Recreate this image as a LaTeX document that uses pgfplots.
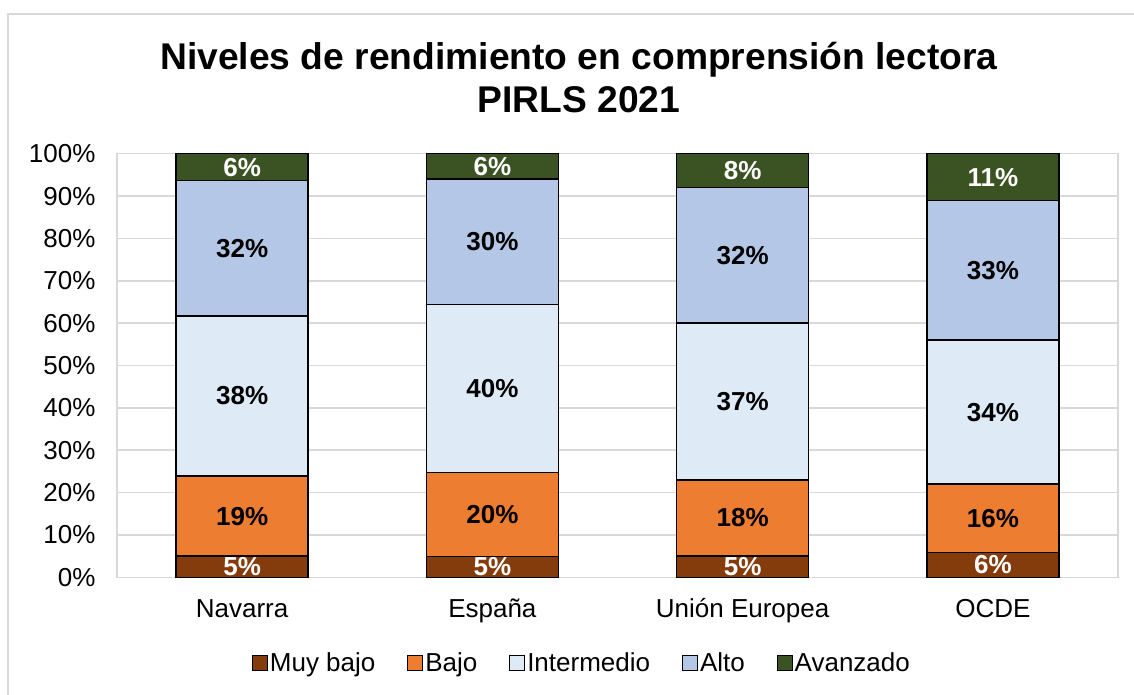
\documentclass[border=0pt]{standalone}
\usepackage{pgfplots}
\pgfplotsset{compat=1.18}
\usepackage{pgfplotstable}
\usepackage{fontspec}
\setmainfont{Liberation Sans}
\definecolor{cMuy}{HTML}{843C0C}
\definecolor{cBajo}{HTML}{ED7D31}
\definecolor{cInt}{HTML}{DEEBF7}
\definecolor{cAlto}{HTML}{B4C7E7}
\definecolor{cAva}{HTML}{3B5323}
\definecolor{cGrid}{HTML}{D9D9D9}
\pgfplotstableread{
x muybajo bajo inter alto avanz
0 5.0 18.9 37.8 31.9 6.4
1 4.9 19.8 39.7 29.6 6.0
2 5.0 18.0 37.0 32.0 8.0
3 5.8 16.2 34.0 32.9 11.1
}\datatable
\begin{document}
\begin{tikzpicture}[x=1pt,y=1pt]
\useasboundingbox (0,0) rectangle (1134,695);
\draw[cGrid, line width=1.5pt] (8,681) rectangle (1160,-20);
\node[anchor=base, font=\fontsize{37.2}{44}\selectfont\bfseries] at (579,625) {Niveles de rendimiento en comprensión lectora};
\node[anchor=base, font=\fontsize{37.2}{44}\selectfont\bfseries] at (579,582) {PIRLS 2021};
\begin{axis}[
  at={(117pt,117.7pt)}, anchor=south west,
  scale only axis, width=1001pt, height=423.6pt,
  ybar stacked, bar width=132pt,
  xmin=-0.5, xmax=3.5, ymin=0, ymax=100,
  xtick=data,
  xticklabels={Navarra, España, Unión Europea, OCDE},
  ytick={0,10,...,100},
  yticklabel={\pgfmathprintnumber{\tick}\%},
  /pgf/number format/assume math mode=true,
  major tick length=0pt,
  ymajorgrids, major grid style={cGrid, line width=1.5pt},
  axis line style={cGrid, line width=1.5pt},
  tick label style={font=\fontsize{26}{31}\selectfont, text=black},
  xticklabel style={anchor=base, yshift=-40pt},
  yticklabel style={xshift=-18pt},
  legend columns=5,
  legend style={at={(0.4645,-0.202)}, anchor=center, draw=none,
    font=\fontsize{26}{31}\selectfont,
    /tikz/every even column/.append style={column sep=30pt},
    nodes={inner xsep=2pt},
    inner sep=0pt},
  legend image code/.code={\draw[#1, draw=black, line width=0.9pt] (0pt,-7.5pt) rectangle (15pt,7.5pt);},
  every axis plot/.append style={draw=black, line width=1.3pt},
  visualization depends on=rawy \as \h,
  nodes near coords={\pgfmathprintnumber[fixed,precision=0]{\h}\%},
  every node near coord/.append style={anchor=center, font=\fontsize{26}{31}\selectfont\bfseries},
]
\addplot[fill=cMuy, every node near coord/.append style={text=white}] table[x=x, y=muybajo] {\datatable};
\addplot[fill=cBajo] table[x=x, y=bajo] {\datatable};
\addplot[fill=cInt] table[x=x, y=inter] {\datatable};
\addplot[fill=cAlto] table[x=x, y=alto] {\datatable};
\addplot[fill=cAva, every node near coord/.append style={text=white}] table[x=x, y=avanz] {\datatable};
\legend{Muy bajo, Bajo, Intermedio, Alto, Avanzado}
\end{axis}
\end{tikzpicture}
\end{document}
